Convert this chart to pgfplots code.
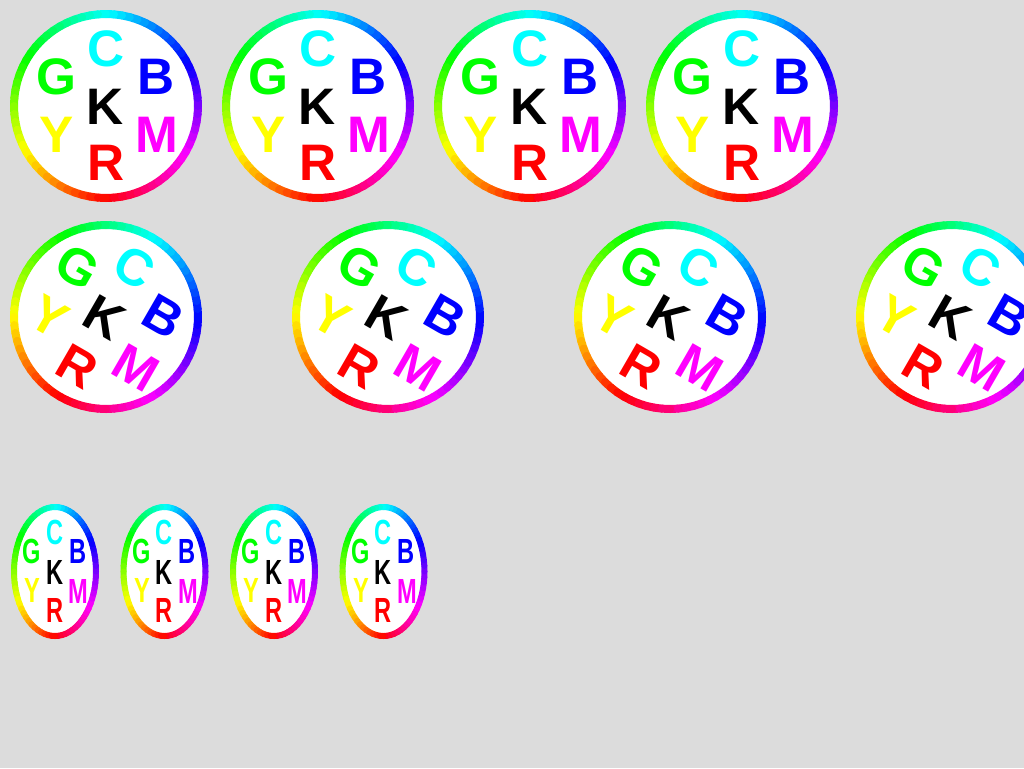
\documentclass[border=0pt]{standalone}
\usepackage{fontspec}
\setmainfont{Liberation Sans}
\usepackage{pgfplots}
\usepackage{pgfplotstable}
\pgfplotsset{compat=1.18}
\definecolor{bg}{RGB}{220,220,220}
\definecolor{lC}{RGB}{0,255,255}
\definecolor{lG}{RGB}{0,255,0}
\definecolor{lB}{RGB}{0,0,255}
\definecolor{lY}{RGB}{255,255,0}
\definecolor{lM}{RGB}{255,0,255}
\definecolor{lR}{RGB}{255,0,0}
\definecolor{lK}{RGB}{0,0,0}
\newcommand{\lf}{\fontsize{38.5}{40}\selectfont\bfseries}

% unit circle, angle -90..270 deg (math sense), h = hue (270 - angle)
\pgfplotstableread{
c s h
0 -1 360
0.0872 -0.9962 355
0.1736 -0.9848 350
0.2588 -0.9659 345
0.3420 -0.9397 340
0.4226 -0.9063 335
0.5000 -0.8660 330
0.5736 -0.8192 325
0.6428 -0.7660 320
0.7071 -0.7071 315
0.7660 -0.6428 310
0.8192 -0.5736 305
0.8660 -0.5000 300
0.9063 -0.4226 295
0.9397 -0.3420 290
0.9659 -0.2588 285
0.9848 -0.1736 280
0.9962 -0.0872 275
1 0 270
0.9962 0.0872 265
0.9848 0.1736 260
0.9659 0.2588 255
0.9397 0.3420 250
0.9063 0.4226 245
0.8660 0.5000 240
0.8192 0.5736 235
0.7660 0.6428 230
0.7071 0.7071 225
0.6428 0.7660 220
0.5736 0.8192 215
0.5000 0.8660 210
0.4226 0.9063 205
0.3420 0.9397 200
0.2588 0.9659 195
0.1736 0.9848 190
0.0872 0.9962 185
0 1 180
-0.0872 0.9962 175
-0.1736 0.9848 170
-0.2588 0.9659 165
-0.3420 0.9397 160
-0.4226 0.9063 155
-0.5000 0.8660 150
-0.5736 0.8192 145
-0.6428 0.7660 140
-0.7071 0.7071 135
-0.7660 0.6428 130
-0.8192 0.5736 125
-0.8660 0.5000 120
-0.9063 0.4226 115
-0.9397 0.3420 110
-0.9659 0.2588 105
-0.9848 0.1736 100
-0.9962 0.0872 95
-1 0 90
-0.9962 -0.0872 85
-0.9848 -0.1736 80
-0.9659 -0.2588 75
-0.9397 -0.3420 70
-0.9063 -0.4226 65
-0.8660 -0.5000 60
-0.8192 -0.5736 55
-0.7660 -0.6428 50
-0.7071 -0.7071 45
-0.6428 -0.7660 40
-0.5736 -0.8192 35
-0.5000 -0.8660 30
-0.4226 -0.9063 25
-0.3420 -0.9397 20
-0.2588 -0.9659 15
-0.1736 -0.9848 10
-0.0872 -0.9962 5
0 -1 0
}\ringtab

% #1 cx, #2 cy, #3 rx, #4 ry, #5 hue offset, #6 ring width
\newcommand{\ringicon}[6]{%
  \addplot[draw=none, fill=white, forget plot]
    table[x expr={#1+#3*(\thisrow{c})}, y expr={#2-#4*(\thisrow{s})}] {\ringtab};
  \addplot[mesh, no markers, line width=#6, line cap=round, forget plot,
    point meta={\thisrow{h}+(#5)}]
    table[x expr={#1+#3*(\thisrow{c})}, y expr={#2-#4*(\thisrow{s})}] {\ringtab};
}
% #1 cx, #2 cy, #3 phi, #4 sx, #5 sy, #6 dx, #7 dy, #8 colour, #9 letter
\newcommand{\lettr}[9]{%
  \node[text=#8, rotate=-#3, xscale=#4, yscale=#5, inner sep=0pt, font=\lf]
    at (axis cs:{#1+#4*((#6)*cos(#3)-(#7)*sin(#3))},{#2+#5*((#6)*sin(#3)+(#7)*cos(#3))}) {#9};%
}
\newcommand{\letters}[5]{%
  \lettr{#1}{#2}{#3}{#4}{#5}{0}{-57}{lC}{C}%
  \lettr{#1}{#2}{#3}{#4}{#5}{-50}{-29}{lG}{G}%
  \lettr{#1}{#2}{#3}{#4}{#5}{50}{-29}{lB}{B}%
  \lettr{#1}{#2}{#3}{#4}{#5}{-1}{1}{lK}{K}%
  \lettr{#1}{#2}{#3}{#4}{#5}{-49}{28.5}{lY}{Y}%
  \lettr{#1}{#2}{#3}{#4}{#5}{51}{29}{lM}{M}%
  \lettr{#1}{#2}{#3}{#4}{#5}{0}{57}{lR}{R}%
}

\begin{document}
\begin{tikzpicture}
\useasboundingbox (0,0) rectangle (768pt,576pt);
\fill[bg] (0,0) rectangle (768pt,576pt);
\clip (0,0) rectangle (768pt,576pt);
\begin{axis}[
  at={(0pt,0pt)}, anchor=south west,
  scale only axis, width=768pt, height=576pt,
  xmin=0, xmax=1024, ymin=0, ymax=768, y dir=reverse,
  hide axis, clip=true,
  colormap={hue}{rgb255=(255,0,255) rgb255=(255,0,0) rgb255=(255,255,0) rgb255=(0,255,0) rgb255=(0,255,255) rgb255=(0,0,255) rgb255=(255,0,255) rgb255=(255,0,0)},
  point meta min=-60, point meta max=360,
]
% row 1
\ringicon{106}{106}{92}{92}{0}{6pt}
\ringicon{318}{106}{92}{92}{0}{6pt}
\ringicon{530}{106}{92}{92}{0}{6pt}
\ringicon{742}{106}{92}{92}{0}{6pt}
% row 2 (rotated 30 deg clockwise)
\ringicon{106}{317}{92}{92}{-30}{6pt}
\ringicon{388}{317}{92}{92}{-30}{6pt}
\ringicon{670}{317}{92}{92}{-30}{6pt}
\ringicon{952}{317}{92}{92}{-30}{6pt}
% row 3 (squeezed)
\ringicon{55}{571.5}{41}{64.5}{0}{4.5pt}
\ringicon{164.5}{571.5}{41}{64.5}{0}{4.5pt}
\ringicon{274}{571.5}{41}{64.5}{0}{4.5pt}
\ringicon{383.5}{571.5}{41}{64.5}{0}{4.5pt}

\letters{106}{106}{0}{1}{1}
\letters{318}{106}{0}{1}{1}
\letters{530}{106}{0}{1}{1}
\letters{742}{106}{0}{1}{1}
\letters{106}{317}{30}{1}{1}
\letters{388}{317}{30}{1}{1}
\letters{670}{317}{30}{1}{1}
\letters{952}{317}{30}{1}{1}
\letters{55}{571.5}{0}{0.46}{0.68}
\letters{164.5}{571.5}{0}{0.46}{0.68}
\letters{274}{571.5}{0}{0.46}{0.68}
\letters{383.5}{571.5}{0}{0.46}{0.68}
\end{axis}
\end{tikzpicture}
\end{document}
